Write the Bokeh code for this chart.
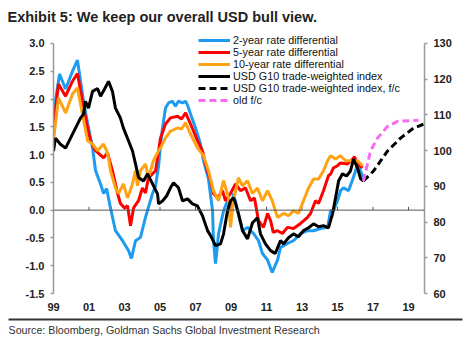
from bokeh.plotting import figure
from bokeh.models import (Range1d, LinearAxis, FixedTicker, NumeralTickFormatter, Span, Title)
from bokeh.layouts import column
from bokeh.embed import file_html
from bokeh.resources import INLINE

# ---------------- data ----------------
years_2y = [1999.00, 1999.34, 1999.68, 2000.07, 2000.35, 2000.69, 2000.97, 2001.20, 2001.37, 2001.65,
            2001.82, 2001.99, 2002.21, 2002.49, 2002.89, 2003.23, 2003.39, 2003.62, 2003.90, 2004.18,
            2004.58, 2004.75, 2004.92, 2005.03, 2005.14, 2005.31, 2005.48, 2005.70, 2005.87, 2006.04,
            2006.27, 2006.44, 2006.55, 2006.72, 2007.00, 2007.28, 2007.45, 2007.73, 2007.96, 2008.01,
            2008.13, 2008.30, 2008.58, 2008.80, 2008.97, 2009.14, 2009.37, 2009.65, 2009.93, 2010.27,
            2010.55, 2010.77, 2011.06, 2011.32, 2011.62, 2011.79, 2012.18, 2012.52, 2012.92, 2013.31,
            2013.65, 2014.04, 2014.44, 2014.61, 2014.77, 2015.00, 2015.17, 2015.34, 2015.62, 2015.85,
            2016.01, 2016.13, 2016.30, 2016.46]
diff_2y = [1.73, 2.45, 2.18, 2.50, 2.70, 1.96, 1.48, 1.12, 0.71, 0.47,
           0.30, 0.39, 0.04, -0.37, -0.55, -0.73, -0.87, -0.55, -0.49, -0.13,
           0.30, 0.44, 0.80, 1.16, 1.48, 1.84, 1.93, 1.96, 1.87, 1.96,
           1.93, 1.96, 1.89, 1.73, 1.48, 1.19, 0.89, 0.56, -0.01, -0.55,
           -0.96, -0.42, -0.01, 0.17, -0.13, 0.30, -0.01, -0.37, -0.31, -0.42,
           -0.55, -0.78, -0.90, -1.12, -0.90, -0.67, -0.60, -0.55, -0.42, -0.37,
           -0.37, -0.33, -0.31, -0.01, -0.01, 0.17, 0.35, 0.40, 0.35, 0.55,
           0.70, 0.85, 0.70, 0.58]

years_5y = [1999.00, 1999.28, 1999.68, 2000.07, 2000.35, 2000.63, 2000.92, 2001.08, 2001.37, 2001.82,
            2002.04, 2002.32, 2002.61, 2002.77, 2003.00, 2003.17, 2003.34, 2003.51, 2003.79, 2004.01,
            2004.18, 2004.35, 2004.75, 2004.92, 2005.03, 2005.31, 2005.59, 2005.99, 2006.21, 2006.44,
            2006.72, 2007.11, 2007.39, 2007.56, 2007.85, 2008.01, 2008.24, 2008.52, 2008.69, 2008.97,
            2009.25, 2009.54, 2009.82, 2010.10, 2010.32, 2010.55, 2010.83, 2011.06, 2011.23, 2011.38,
            2011.62, 2011.90, 2012.18, 2012.52, 2012.92, 2013.31, 2013.48, 2013.76, 2013.93, 2014.21,
            2014.49, 2014.61, 2014.77, 2015.00, 2015.17, 2015.56, 2015.85, 2015.96, 2016.13, 2016.41]
diff_5y = [1.48, 2.27, 2.05, 2.32, 2.46, 1.96, 1.48, 1.25, 1.07, 0.94,
           1.03, 0.71, 0.30, 0.12, 0.04, 0.08, -0.28, 0.04, 0.17, 0.40,
           0.31, 0.58, 0.71, 1.07, 1.30, 1.55, 1.66, 1.69, 1.64, 1.75,
           1.55, 1.25, 1.07, 0.83, 0.53, 0.30, 0.22, 0.35, 0.17, 0.30,
           0.47, 0.35, 0.40, 0.17, 0.22, -0.19, -0.31, -0.06, -0.19, -0.40,
           -0.37, -0.42, -0.31, -0.33, -0.24, -0.13, -0.06, 0.17, 0.12, 0.35,
           0.62, 0.65, 0.76, 0.80, 0.85, 0.83, 0.92, 0.96, 0.83, 0.76]

years_10y = [1999.00, 1999.28, 1999.68, 2000.07, 2000.35, 2000.63, 2000.92, 2001.20, 2001.48, 2001.82,
             2001.99, 2002.10, 2002.21, 2002.49, 2002.66, 2002.94, 2003.17, 2003.45, 2003.62, 2003.73,
             2003.90, 2004.18, 2004.35, 2004.63, 2004.92, 2005.03, 2005.31, 2005.59, 2005.99, 2006.21,
             2006.44, 2006.72, 2007.11, 2007.45, 2007.73, 2008.01, 2008.30, 2008.58, 2008.86, 2008.97,
             2009.14, 2009.42, 2009.65, 2009.93, 2010.21, 2010.49, 2010.77, 2011.06, 2011.32, 2011.62,
             2011.96, 2012.24, 2012.52, 2012.80, 2013.08, 2013.37, 2013.65, 2013.93, 2014.21, 2014.44,
             2014.61, 2014.89, 2015.17, 2015.45, 2015.85, 2016.13, 2016.41]
diff_10y = [1.25, 2.02, 1.75, 2.09, 2.20, 1.73, 1.25, 1.19, 1.07, 1.19,
            1.07, 0.94, 0.71, 0.40, 0.30, 0.47, 0.22, 0.47, 0.71, 0.44,
            0.71, 0.83, 0.58, 0.89, 1.07, 1.12, 1.30, 1.42, 1.48, 1.46,
            1.57, 1.37, 1.12, 0.98, 0.71, 0.35, 0.17, 0.53, 0.22, -0.31,
            0.17, 0.58, 0.44, 0.53, 0.30, 0.40, 0.17, 0.35, 0.17, -0.13,
            -0.06, -0.10, -0.01, -0.06, 0.17, 0.40, 0.56, 0.56, 0.71, 0.89,
            0.98, 0.92, 0.98, 0.89, 0.89, 0.89, 0.80]

years_twi = [1999.00, 1999.11, 1999.39, 1999.68, 1999.96, 2000.24, 2000.52, 2000.69, 2000.80, 2000.97,
             2001.20, 2001.48, 2001.65, 2001.87, 2002.10, 2002.32, 2002.49, 2002.77, 2002.94, 2003.23,
             2003.45, 2003.62, 2003.79, 2004.07, 2004.30, 2004.58, 2004.86, 2004.92, 2005.14, 2005.37,
             2005.59, 2005.76, 2006.04, 2006.27, 2006.55, 2006.83, 2007.11, 2007.39, 2007.68, 2007.85,
             2008.13, 2008.41, 2008.58, 2008.80, 2008.97, 2009.14, 2009.25, 2009.42, 2009.65, 2009.93,
             2010.21, 2010.49, 2010.66, 2010.94, 2011.23, 2011.49, 2011.79, 2011.96, 2012.24, 2012.52,
             2012.80, 2013.08, 2013.37, 2013.65, 2013.93, 2014.21, 2014.49, 2014.72, 2014.89, 2015.06,
             2015.28, 2015.51, 2015.73, 2015.90, 2016.13, 2016.30, 2016.46]
usd_twi = [99.9, 103.5, 101.8, 100.7, 103.5, 106.3, 109.1, 110.2, 113.8, 111.9,
           116.6, 117.4, 115.2, 117.2, 119.4, 116.6, 111.9, 109.1, 106.3, 102.7,
           99.9, 96.3, 92.5, 91.5, 93.5, 90.7, 87.9, 85.1, 85.9, 87.3,
           89.6, 91.0, 89.6, 85.9, 86.5, 85.1, 84.5, 81.8, 77.6, 76.2,
           73.4, 73.9, 76.7, 83.1, 85.9, 86.8, 85.4, 82.3, 77.6, 75.3,
           79.8, 81.2, 76.7, 73.9, 72.0, 71.2, 74.8, 73.9, 75.6, 76.7,
           75.9, 77.6, 78.4, 79.5, 78.7, 79.0, 78.4, 82.3, 86.8, 91.5,
           93.5, 92.9, 94.3, 97.6, 95.1, 92.1, 91.5]

years_fc = [2016.46, 2017.03, 2017.82, 2018.55, 2019.28, 2019.85]
usd_fc = [91.5, 94.3, 99.9, 103.5, 106.3, 107.4]

years_old = [2016.46, 2016.86, 2017.25, 2017.82, 2018.38, 2019.56]
usd_old = [91.5, 99.9, 103.5, 106.8, 108.2, 108.5]

x_ticks = [1999, 2001, 2003, 2005, 2007, 2009, 2011, 2013, 2015, 2017, 2019]
x_tick_labels = ["99", "01", "03", "05", "07", "09", "11", "13", "15", "17", "19"]
left_ticks = [-1.5, -1.0, -0.5, 0.0, 0.5, 1.0, 1.5, 2.0, 2.5, 3.0]
right_ticks = [60, 70, 80, 90, 100, 110, 120, 130]

TITLE = "Exhibit 5: We keep our overall USD bull view."
SOURCE = "Source: Bloomberg, Goldman Sachs Global Investment Research"

# ---------------- styling ----------------
SANS = "'Liberation Sans', Arial, sans-serif"
C_BLUE = "#1E9BF0"
C_RED = "#FF0000"
C_ORANGE = "#FFA214"
C_BLACK = "#000000"
C_PINK = "#F56CF0"

# frame reaches a little above the top ticks so the legend is not clipped;
# the axis lines are bounded to the tick range
p = figure(width=470, height=317, output_backend="svg", toolbar_location=None,
           x_range=Range1d(1999.0, 2019.9), y_range=Range1d(-1.5, 3.215),
           min_border_left=53, min_border_right=46, min_border_top=30, min_border_bottom=24)
p.frame_align = False
p.extra_y_ranges = {"twi": Range1d(60, 133.35)}
p.outline_line_color = None
p.grid.visible = False
p.background_fill_color = "white"
p.border_fill_color = "white"

p.title.text = TITLE
p.title.text_font = SANS
p.title.text_font_style = "bold"
p.title.text_font_size = "14.5px"
p.title.text_color = "#222222"
p.title.align = "left"
p.title.offset = -46
p.title.standoff = 13

# zero line with small ticks
p.add_layout(Span(location=0, dimension="width", line_color="#555555", line_width=1))
p.segment(x0=x_ticks, y0=[0] * len(x_ticks), x1=x_ticks, y1=[0.06] * len(x_ticks),
          line_color="#555555", line_width=1)

# series
p.line(years_2y, diff_2y, line_color=C_BLUE, line_width=3, legend_label="2-year rate differential")
p.line(years_5y, diff_5y, line_color=C_RED, line_width=3, legend_label="5-year rate differential")
p.line(years_10y, diff_10y, line_color=C_ORANGE, line_width=3, legend_label="10-year rate differential")
p.line(years_twi, usd_twi, line_color=C_BLACK, line_width=3, y_range_name="twi",
       legend_label="USD G10 trade-weighted index")
p.line(years_fc, usd_fc, line_color=C_BLACK, line_width=3, line_dash="7 4", y_range_name="twi",
       legend_label="USD G10 trade-weighted index, f/c")
p.line(years_old, usd_old, line_color=C_PINK, line_width=3, line_dash="7 4", y_range_name="twi",
       legend_label="old f/c")

# axes
xa = p.xaxis[0]
xa.ticker = FixedTicker(ticks=x_ticks)
xa.major_label_overrides = {t: l for t, l in zip(x_ticks, x_tick_labels)}
xa.axis_line_color = None
xa.major_tick_line_color = None
xa.minor_tick_line_color = None
xa.major_tick_out = 0
xa.major_label_standoff = 9

ya = p.yaxis[0]
ya.ticker = FixedTicker(ticks=left_ticks)
ya.formatter = NumeralTickFormatter(format="0.0")
ya.bounds = (-1.5, 3.0)

ra = LinearAxis(y_range_name="twi", ticker=FixedTicker(ticks=right_ticks), bounds=(60, 130))
p.add_layout(ra, "right")

for ax in (ya, ra):
    ax.axis_line_color = "#9A9A9A"
    ax.axis_line_width = 1.5
    ax.major_tick_line_color = "#9A9A9A"
    ax.major_tick_line_width = 1.5
    ax.major_tick_out = 3
    ax.major_tick_in = 0
    ax.minor_tick_line_color = None
    ax.major_label_standoff = 6

for ax in (xa, ya, ra):
    ax.major_label_text_font = SANS
    ax.major_label_text_font_style = "bold"
    ax.major_label_text_font_size = "11px"
    ax.major_label_text_color = "#222222"

# legend
lg = p.legend[0]
lg.location = (145, 187)
lg.padding = 0
lg.margin = 0
lg.spacing = 0
lg.glyph_width = 32
lg.glyph_height = 12
lg.label_height = 12
lg.label_standoff = 3
lg.label_text_font = SANS
lg.label_text_font_size = "10.8px"
lg.label_text_color = "#111111"
lg.border_line_color = None
lg.background_fill_alpha = 0

# footer: a thin dark rule (the frame of a tiny figure) and the source line
foot = figure(width=470, height=23, output_backend="svg", toolbar_location=None,
              x_range=Range1d(0, 1), y_range=Range1d(0, 1), x_axis_type=None, y_axis_type=None,
              min_border_left=8, min_border_right=8, min_border_top=1, min_border_bottom=20)
foot.frame_align = False
foot.outline_line_color = None
foot.grid.visible = False
foot.background_fill_color = "#333333"
foot.border_fill_color = "white"
foot.title = None
foot.add_layout(Title(text=SOURCE, align="left", offset=0, text_font=SANS,
                      text_font_style="normal", text_font_size="10.7px",
                      text_color="#333333", standoff=3), "below")

layout = column(p, foot, spacing=0)
open("out.html", "w").write(file_html(layout, INLINE))
